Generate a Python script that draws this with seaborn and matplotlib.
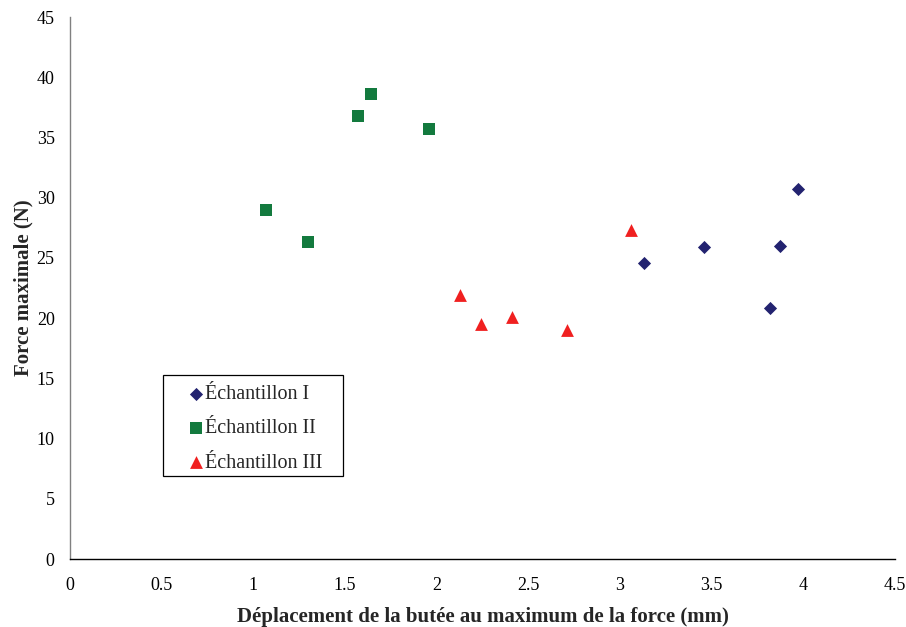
import matplotlib
matplotlib.use("Agg")
import matplotlib.pyplot as plt
from matplotlib.patches import Rectangle
import seaborn as sns
import pandas as pd

# Measured displacement (mm) and peak force (N) for each specimen group
x_ech1 = [3.13, 3.46, 3.87, 3.97, 3.82]
y_ech1 = [24.6, 25.9, 26.0, 30.7, 20.8]
x_ech2 = [1.07, 1.30, 1.57, 1.64, 1.96]
y_ech2 = [29.0, 26.3, 36.8, 38.6, 35.7]
x_ech3 = [2.13, 2.24, 2.41, 2.71, 3.06]
y_ech3 = [21.9, 19.5, 20.1, 19.0, 27.3]
series = ["Échantillon I", "Échantillon II", "Échantillon III"]
x_ticks = [0, 0.5, 1, 1.5, 2, 2.5, 3, 3.5, 4, 4.5]
y_ticks = [0, 5, 10, 15, 20, 25, 30, 35, 40, 45]

df = pd.DataFrame({
    "x": x_ech1 + x_ech2 + x_ech3,
    "y": y_ech1 + y_ech2 + y_ech3,
    "serie": [series[0]] * len(x_ech1) + [series[1]] * len(x_ech2) + [series[2]] * len(x_ech3),
})

sns.set_style("white")
plt.rcParams["font.family"] = ["Liberation Serif", "DejaVu Serif"]

fig = plt.figure(figsize=(9.06, 6.27), dpi=100)
ax = fig.add_axes([70 / 906, 1 - 559 / 627, 825 / 906, 542 / 627])

palette = {series[0]: "#232370", series[1]: "#137A3E", series[2]: "#F02020"}
markers = {series[0]: "D", series[1]: "s", series[2]: "^"}
sizes = {series[0]: 45, series[1]: 75, series[2]: 85}

for s in series:
    sub = df[df["serie"] == s]
    sns.scatterplot(data=sub, x="x", y="y", color=palette[s], marker=markers[s],
                    s=sizes[s], linewidth=0, ax=ax, label=s, zorder=3)

ax.set_xlim(0, 4.5)
ax.set_ylim(0, 45)
ax.set_xticks(x_ticks)
ax.set_xticklabels([f"{t:g}" for t in x_ticks])
ax.set_yticks(y_ticks)
ax.set_yticklabels([f"{t:g}" for t in y_ticks])
ax.tick_params(axis="both", which="both", direction="out", length=5, width=0.8,
               labelsize=13, labelcolor="#000000", color="#808080")
ax.tick_params(axis="x", pad=9, length=4)
ax.tick_params(axis="y", pad=6)

for side in ["top", "right"]:
    ax.spines[side].set_visible(False)
ax.spines["left"].set_color("#808080")
ax.spines["left"].set_linewidth(1.0)
ax.spines["bottom"].set_color("#000000")
ax.spines["bottom"].set_linewidth(1.0)

ax.set_xlabel("Déplacement de la butée au maximum de la force (mm)",
              fontsize=15, fontweight="bold", labelpad=9.5)
ax.set_ylabel("Force maximale (N)", fontsize=15, fontweight="bold", labelpad=2)

# Legend entries without frame, enclosed by a plain rectangle
leg = ax.legend(loc="upper left", bbox_to_anchor=(0.1455, 0.321),
                frameon=False, fontsize=14.5, handletextpad=0.15, borderpad=0,
                labelspacing=0.75, handlelength=0.6, borderaxespad=0)
ax.add_patch(Rectangle((0.1127, 0.1531), 0.2182, 0.1863, transform=ax.transAxes,
                       fill=False, edgecolor="#000000", linewidth=0.9, zorder=4))

fig.savefig("out.png", dpi=100, facecolor="white")
